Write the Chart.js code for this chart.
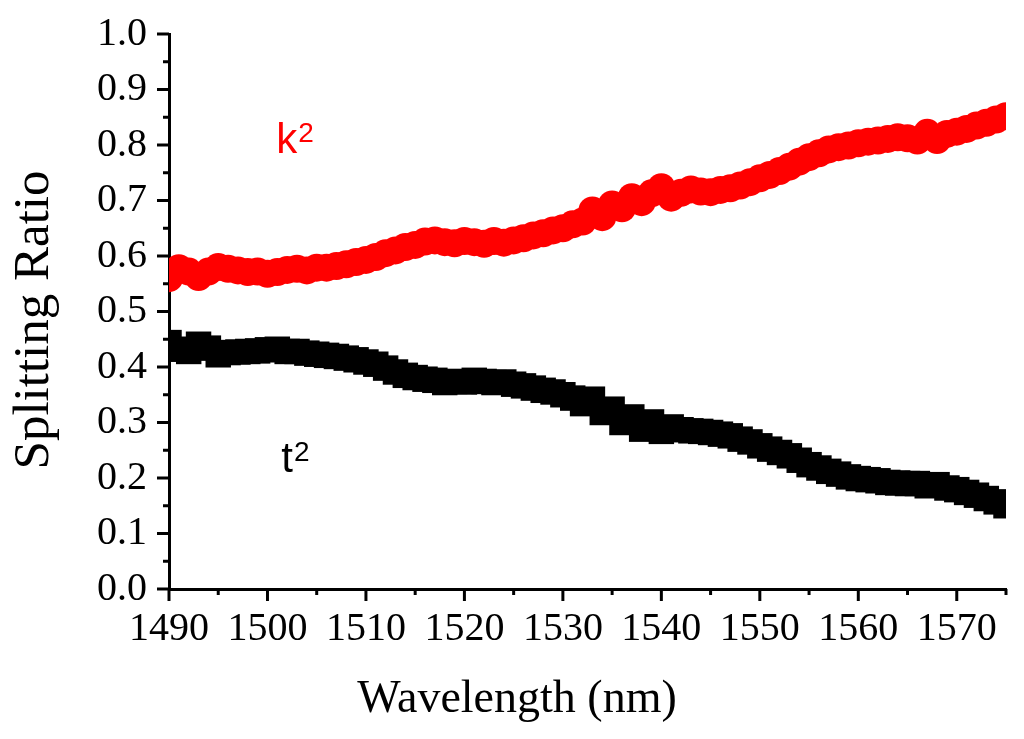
<!DOCTYPE html>
<html>
<head>
<meta charset="utf-8">
<script src="https://cdn.jsdelivr.net/npm/chart.js@4.4.0/dist/chart.umd.min.js"></script>
<style>
  html, body { margin: 0; padding: 0; background: #fff; overflow: hidden; }
  canvas { display: block; }
</style>
</head>
<body>
<canvas id="chart" width="1024" height="739"></canvas>
<script>
// wavelength (nm) of each measured point
const wavelengths = [
  1490, 1491, 1492, 1493, 1494, 1495, 1496, 1497, 1498, 1499,
  1500, 1501, 1502, 1503, 1504, 1505, 1506, 1507, 1508, 1509,
  1510, 1511, 1512, 1513, 1514, 1515, 1516, 1517, 1518, 1519,
  1520, 1521, 1522, 1523, 1524, 1525, 1526, 1527, 1528, 1529,
  1530, 1531, 1532, 1533, 1534, 1535, 1536, 1537, 1538, 1539,
  1540, 1541, 1542, 1543, 1544, 1545, 1546, 1547, 1548, 1549,
  1550, 1551, 1552, 1553, 1554, 1555, 1556, 1557, 1558, 1559,
  1560, 1561, 1562, 1563, 1564, 1565, 1566, 1567, 1568, 1569,
  1570, 1571, 1572, 1573, 1574, 1575
];

// k^2 (red circles)
const kSquared = [
  0.560, 0.578, 0.572, 0.562, 0.572, 0.580, 0.577, 0.574, 0.571, 0.572,
  0.568, 0.571, 0.575, 0.577, 0.574, 0.579, 0.579, 0.582, 0.585, 0.589,
  0.593, 0.598, 0.605, 0.610, 0.616, 0.620, 0.626, 0.628, 0.625, 0.623,
  0.627, 0.625, 0.622, 0.627, 0.624, 0.628, 0.632, 0.637, 0.641, 0.646,
  0.650, 0.657, 0.662, 0.682, 0.670, 0.693, 0.686, 0.706, 0.697, 0.713,
  0.724, 0.705, 0.714, 0.720, 0.716, 0.715, 0.719, 0.722, 0.727, 0.733,
  0.740, 0.746, 0.753, 0.761, 0.770, 0.778, 0.785, 0.792, 0.796, 0.799,
  0.803, 0.806, 0.808, 0.811, 0.814, 0.812, 0.808, 0.822, 0.809, 0.820,
  0.824, 0.829, 0.835, 0.840, 0.846, 0.852
];

// t^2 (black squares)
const tSquared = [
  0.444, 0.432, 0.428, 0.441, 0.434, 0.422, 0.426, 0.427, 0.428, 0.429,
  0.431, 0.432, 0.428, 0.428, 0.425, 0.423, 0.421, 0.419, 0.416, 0.413,
  0.409, 0.405, 0.398, 0.391, 0.385, 0.381, 0.378, 0.376, 0.372, 0.374,
  0.373, 0.376, 0.374, 0.372, 0.373, 0.369, 0.366, 0.362, 0.358, 0.355,
  0.350, 0.344, 0.334, 0.342, 0.318, 0.324, 0.300, 0.310, 0.288, 0.301,
  0.284, 0.292, 0.287, 0.285, 0.284, 0.282, 0.279, 0.276, 0.270, 0.265,
  0.258, 0.252, 0.246, 0.240, 0.232, 0.224, 0.218, 0.212, 0.207, 0.202,
  0.199, 0.197, 0.195, 0.192, 0.191, 0.190, 0.190, 0.186, 0.188, 0.182,
  0.179, 0.174, 0.169, 0.163, 0.157, 0.150
];

// curve labels, placed in data coordinates
const curveLabels = ['k', 't'];
const curveLabelX = [1500.9, 1501.4];
const curveLabelY = [0.786, 0.210];
const curveLabelColors = ['#ff0000', '#000000'];

const serif = "'Liberation Serif', 'Times New Roman', serif";
const sans = "'Liberation Sans', Arial, sans-serif";

function toPoints(xs, ys) {
  return xs.map((x, i) => ({ x: x, y: ys[i] }));
}

// major/minor tick marks drawn through the scales (Chart.js has no minor ticks)
const tickMarks = {
  id: 'tickMarks',
  afterDraw(chart) {
    const ctx = chart.ctx;
    const xs = chart.scales.x;
    const ys = chart.scales.y;
    const area = chart.chartArea;
    ctx.save();
    ctx.strokeStyle = '#000';
    ctx.lineWidth = 3;
    ctx.lineCap = 'butt';
    xs.ticks.forEach((t) => {
      const px = xs.getPixelForValue(t.value);
      const major = Math.round(t.value) % 10 === 0;
      ctx.beginPath();
      ctx.moveTo(px, area.bottom);
      ctx.lineTo(px, area.bottom + (major ? 12 : 6));
      ctx.stroke();
    });
    ys.ticks.forEach((t) => {
      const py = ys.getPixelForValue(t.value);
      const major = Math.round(t.value * 100) % 10 === 0;
      ctx.beginPath();
      ctx.moveTo(area.left, py);
      ctx.lineTo(area.left - (major ? 12 : 6), py);
      ctx.stroke();
    });
    ctx.restore();
  }
};

// axis titles and the k^2 / t^2 labels
const textLayer = {
  id: 'textLayer',
  afterDraw(chart) {
    const ctx = chart.ctx;
    const xs = chart.scales.x;
    const ys = chart.scales.y;
    ctx.save();
    ctx.fillStyle = '#000';
    ctx.font = '46px ' + serif;
    ctx.textAlign = 'center';
    ctx.textBaseline = 'alphabetic';
    ctx.fillText('Wavelength (nm)', 517, 712);

    ctx.translate(48, 320);
    ctx.rotate(-Math.PI / 2);
    ctx.font = '51px ' + serif;
    ctx.fillText('Splitting Ratio', 0, 0);
    ctx.restore();

    ctx.save();
    ctx.textAlign = 'left';
    ctx.textBaseline = 'alphabetic';
    curveLabels.forEach((s, i) => {
      const px = xs.getPixelForValue(curveLabelX[i]);
      const py = ys.getPixelForValue(curveLabelY[i]);
      ctx.fillStyle = curveLabelColors[i];
      ctx.font = '42px ' + sans;
      ctx.fillText(s, px, py);
      const w = ctx.measureText(s).width;
      ctx.font = '28px ' + sans;
      ctx.fillText('2', px + w + 1, py - 11);
    });
    ctx.restore();
  }
};

new Chart(document.getElementById('chart'), {
  type: 'scatter',
  data: {
    datasets: [
      {
        label: 't2',
        data: toPoints(wavelengths, tSquared),
        pointStyle: 'rect',
        pointRadius: 18,
        pointHoverRadius: 18,
        backgroundColor: '#000000',
        borderColor: '#000000',
        borderWidth: 0,
      },
      {
        label: 'k2',
        data: toPoints(wavelengths, kSquared),
        pointStyle: 'circle',
        pointRadius: 14,
        pointHoverRadius: 14,
        backgroundColor: '#ff0000',
        borderColor: '#ff0000',
        borderWidth: 0,
      },
    ],
  },
  options: {
    responsive: false,
    animation: false,
    events: [],
    layout: { padding: { top: 31, right: 18, left: 0, bottom: 0 } },
    plugins: {
      legend: { display: false },
      tooltip: { enabled: false },
    },
    scales: {
      x: {
        type: 'linear',
        min: 1490,
        max: 1575,
        afterFit: (scale) => { scale.height = 150; },
        grid: { display: true, drawOnChartArea: false, tickLength: 12, tickColor: 'rgba(0,0,0,0)' },
        border: { display: true, color: '#000', width: 3 },
        ticks: {
          stepSize: 5,
          autoSkip: false,
          maxRotation: 0,
          padding: 4,
          color: '#000',
          font: { family: serif, size: 40 },
          callback: (v) => (Math.round(v) % 10 === 0 ? String(v) : ''),
        },
      },
      y: {
        min: 0,
        max: 1,
        afterFit: (scale) => { scale.width = 169; },
        grid: { display: true, drawOnChartArea: false, tickLength: 12, tickColor: 'rgba(0,0,0,0)' },
        border: { display: true, color: '#000', width: 3 },
        ticks: {
          stepSize: 0.05,
          autoSkip: false,
          padding: 10,
          color: '#000',
          font: { family: serif, size: 40 },
          callback: (v) => (Math.round(v * 100) % 10 === 0 ? v.toFixed(1) : ''),
        },
      },
    },
  },
  plugins: [tickMarks, textLayer],
});
</script>
</body>
</html>
